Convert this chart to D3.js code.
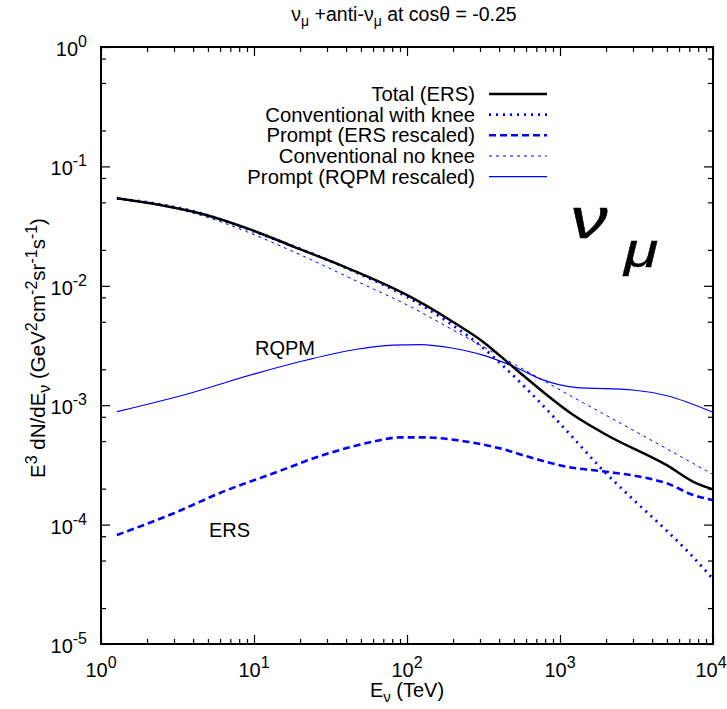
<!DOCTYPE html>
<html>
<head>
<meta charset="utf-8">
<script src="https://cdn.jsdelivr.net/npm/d3@7"></script>
<style>
  body { margin: 0; background: #fff; }
  svg { display: block; }
  text { font-family: "Liberation Sans", Arial, Helvetica, sans-serif; fill: #000; }
</style>
</head>
<body>
<svg id="chart" width="727" height="709"></svg>
<script>
// energies (TeV) and E^3 dN/dE values
var totalE   = [1.27, 2.43, 4.66, 9.42, 18.1, 42.4, 99.6, 191, 315, 521, 1222, 2018, 4980, 7820, 10000];
var totalV   = [0.0541, 0.0475, 0.0398, 0.0297, 0.0213, 0.0138, 0.00838, 0.00517, 0.00339, 0.00197, 8.28e-4, 5.63e-4, 3.15e-4, 2.21e-4, 1.97e-4];
var kneeE    = [1.27, 4.66, 9.42, 42.4, 99.6, 191, 315, 405, 606, 904, 1222, 1825, 3013, 4980, 7080, 9900];
var kneeV    = [0.0541, 0.040, 0.0293, 0.01365, 0.00809, 0.00485, 0.00302, 0.00226, 0.00137, 8.05e-4, 5.31e-4, 3.03e-4, 1.62e-4, 8.9e-5, 5.69e-5, 3.55e-5];
var noKneeE  = [1.27, 2.43, 4.66, 8.96, 18.1, 49.3, 100, 191, 521, 1106, 2018, 4980, 9900];
var noKneeV  = [0.0541, 0.0473, 0.0384, 0.0284, 0.0193, 0.0106, 0.00692, 0.0044, 0.00215, 0.00125, 8.18e-4, 4.32e-4, 2.65e-4];
var ersE     = [1.27, 2.97, 6.3, 13.4, 28.4, 60.2, 90, 128, 246, 405, 670, 1106, 2018, 3334, 4980, 7430, 9900];
var ersV     = [8.18e-5, 1.24e-4, 1.89e-4, 2.69e-4, 3.83e-4, 4.95e-4, 5.38e-4, 5.38e-4, 4.95e-4, 4.35e-4, 3.59e-4, 3.05e-4, 2.77e-4, 2.52e-4, 2.22e-4, 1.77e-4, 1.61e-4];
var rqpmE    = [1.27, 3.82, 10.4, 22.1, 46.9, 81, 122, 200, 314, 524, 774, 1253, 3000, 5000, 10000];
var rqpmV    = [8.83e-4, 1.26e-3, 1.85e-3, 2.39e-3, 2.94e-3, 3.19e-3, 3.22e-3, 3.0e-3, 2.63e-3, 2.05e-3, 1.63e-3, 1.41e-3, 1.34e-3, 1.20e-3, 8.72e-4];

var xMajor = [1, 10, 100, 1000, 10000];
var xExp   = ["0", "1", "2", "3", "4"];
var yMajor = [1, 0.1, 0.01, 0.001, 1e-4, 1e-5];
var yExp   = ["0", "-1", "-2", "-3", "-4", "-5"];

var legendNames = ["Total (ERS)", "Conventional with knee", "Prompt (ERS rescaled)", "Conventional no knee", "Prompt (RQPM rescaled)"];

const plotLeft = 101, plotRight = 713, plotTop = 47, plotBottom = 644;
var svg = d3.select("#chart");

var x = d3.scaleLog().domain([1, 1e4]).range([plotLeft, plotRight]);
var y = d3.scaleLog().domain([1e-5, 1]).range([plotBottom, plotTop]);

// minor ticks
var xMinor = [];
for (var p = 0; p < 4; p++) {
    for (var m = 2; m <= 9; m++) xMinor.push(m * Math.pow(10, p));
}
var yMinor = [];
for (var q = -5; q < 0; q++) {
    [2, 5, 8].forEach(function(m) { yMinor.push(m * Math.pow(10, q)); });
}

function drawAxis(axis, tx, ty) {
    var g = svg.append("g")
        .attr("transform", "translate(" + tx + "," + ty + ")")
        .call(axis);
    g.select(".domain").remove();
    g.selectAll(".tick line").attr("stroke", "#000").attr("stroke-width", 1.2);
    return g;
}
drawAxis(d3.axisBottom(x).tickValues(xMajor).tickSize(-9).tickFormat(""), 0, plotBottom);
drawAxis(d3.axisBottom(x).tickValues(xMinor).tickSize(-5).tickFormat(""), 0, plotBottom);
drawAxis(d3.axisTop(x).tickValues(xMajor).tickSize(-9).tickFormat(""), 0, plotTop);
drawAxis(d3.axisTop(x).tickValues(xMinor).tickSize(-5).tickFormat(""), 0, plotTop);
drawAxis(d3.axisLeft(y).tickValues(yMajor).tickSize(-9).tickFormat(""), plotLeft, 0);
drawAxis(d3.axisLeft(y).tickValues(yMinor).tickSize(-5).tickFormat(""), plotLeft, 0);
drawAxis(d3.axisRight(y).tickValues(yMajor).tickSize(-9).tickFormat(""), plotRight, 0);
drawAxis(d3.axisRight(y).tickValues(yMinor).tickSize(-5).tickFormat(""), plotRight, 0);

// frame
svg.append("rect")
    .attr("x", plotLeft).attr("y", plotTop)
    .attr("width", plotRight - plotLeft).attr("height", plotBottom - plotTop)
    .attr("fill", "none").attr("stroke", "#000").attr("stroke-width", 2);

// tick labels with superscript exponents
xMajor.forEach(function(v, i) {
    var t = svg.append("text")
        .attr("x", Math.min(x(v), 711)).attr("y", 677)
        .attr("text-anchor", "middle")
        .attr("font-size", 20);
    t.append("tspan").text("10");
    t.append("tspan").attr("font-size", 16).attr("dy", -9).text(xExp[i]);
});
yMajor.forEach(function(v, i) {
    var t = svg.append("text")
        .attr("x", 87).attr("y", y(v) + 9)
        .attr("text-anchor", "end")
        .attr("font-size", 20);
    t.append("tspan").text("10");
    t.append("tspan").attr("font-size", 16).attr("dy", -9).text(yExp[i]);
});

// title
var title = svg.append("text")
    .attr("x", 404).attr("y", 21)
    .attr("text-anchor", "middle")
    .attr("font-size", 19.5);
title.append("tspan").text("\u03bd");
title.append("tspan").attr("font-size", 14).attr("dy", 5).text("\u03bc");
title.append("tspan").attr("dy", -5).text(" +anti-\u03bd");
title.append("tspan").attr("font-size", 14).attr("dy", 5).text("\u03bc");
title.append("tspan").attr("dy", -5).text(" at cos\u03b8 = -0.25");

// x label
var xl = svg.append("text")
    .attr("x", 407).attr("y", 697)
    .attr("text-anchor", "middle")
    .attr("font-size", 20);
xl.append("tspan").text("E");
xl.append("tspan").attr("font-size", 15).attr("dy", 5).text("\u03bd");
xl.append("tspan").attr("dy", -5).text(" (TeV)");

// y label
var yl = svg.append("text")
    .attr("transform", "translate(45,348) rotate(-90)")
    .attr("text-anchor", "middle")
    .attr("font-size", 20.5);
yl.append("tspan").text("E");
yl.append("tspan").attr("font-size", 16).attr("dy", -8).text("3");
yl.append("tspan").attr("dy", 8).text(" dN/dE");
yl.append("tspan").attr("font-size", 16).attr("dy", 5).text("\u03bd");
yl.append("tspan").attr("dy", -5).text(" (GeV");
yl.append("tspan").attr("font-size", 16).attr("dy", -8).text("2");
yl.append("tspan").attr("dy", 8).text("cm");
yl.append("tspan").attr("font-size", 16).attr("dy", -8).text("-2");
yl.append("tspan").attr("dy", 8).text("sr");
yl.append("tspan").attr("font-size", 16).attr("dy", -8).text("-1");
yl.append("tspan").attr("dy", 8).text("s");
yl.append("tspan").attr("font-size", 16).attr("dy", -8).text("-1");
yl.append("tspan").attr("dy", 8).text(")");

// curves
var styles = [
    { e: totalE,  v: totalV,  color: "#000",    width: 2.5, dash: null },
    { e: kneeE,   v: kneeV,   color: "#0000ff", width: 2.8, dash: "2,5" },
    { e: ersE,    v: ersV,    color: "#0000ff", width: 2.6, dash: "7,4" },
    { e: noKneeE, v: noKneeV, color: "#0000ff", width: 1,   dash: "3,4" },
    { e: rqpmE,   v: rqpmV,   color: "#0000ff", width: 1.2, dash: null }
];
var line = d3.line()
    .x(function(d) { return x(d[0]); })
    .y(function(d) { return y(d[1]); })
    .curve(d3.curveMonotoneX);

var plot = svg.append("g");
// draw thin ones first, black on top
[4, 3, 2, 1, 0].forEach(function(i) {
    var s = styles[i];
    plot.append("path")
        .datum(d3.zip(s.e, s.v))
        .attr("d", line)
        .attr("fill", "none")
        .attr("stroke", s.color)
        .attr("stroke-width", s.width)
        .attr("stroke-dasharray", s.dash);
});

// legend
var rows = [94, 114.6, 135.3, 156, 176.6];
legendNames.forEach(function(name, i) {
    var s = styles[i];
    svg.append("text")
        .attr("x", 475).attr("y", rows[i] + 7)
        .attr("text-anchor", "end")
        .attr("font-size", 20.3)
        .text(name);
    svg.append("line")
        .attr("x1", 489).attr("x2", 547)
        .attr("y1", rows[i]).attr("y2", rows[i])
        .attr("stroke", s.color)
        .attr("stroke-width", s.width)
        .attr("stroke-dasharray", s.dash);
});

// curve labels
svg.append("text").attr("x", 255).attr("y", 355).attr("font-size", 20).text("RQPM");
svg.append("text").attr("x", 209).attr("y", 537).attr("font-size", 20).text("ERS");

// big nu_mu symbol, stretched a little to look like the TeX italic
svg.append("text")
    .attr("transform", "translate(570,238) scale(1.3,1)")
    .attr("font-family", "'Liberation Serif', 'DejaVu Serif', serif")
    .attr("font-style", "italic")
    .attr("font-size", 58)
    .attr("stroke", "#000").attr("stroke-width", 0.5)
    .text("\u03bd");
svg.append("text")
    .attr("transform", "translate(624,267) scale(1.3,1)")
    .attr("font-family", "'Liberation Serif', 'DejaVu Serif', serif")
    .attr("font-style", "italic")
    .attr("font-size", 48)
    .attr("stroke", "#000").attr("stroke-width", 0.4)
    .text("\u03bc");
</script>
</body>
</html>
